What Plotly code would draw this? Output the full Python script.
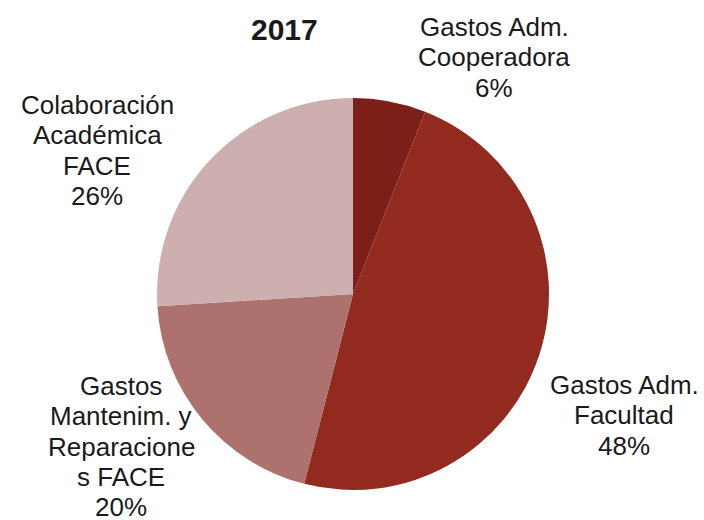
import plotly.graph_objects as go

labels = ["Gastos Adm.<br>Cooperadora", "Gastos Adm.<br>Facultad",
          "Gastos<br>Mantenim. y<br>Reparacione<br>s FACE", "Colaboración<br>Académica<br>FACE"]
values = [6, 48, 20, 26]
colors = ["#7B1F18", "#922A1F", "#AE726E", "#CDAFAF"]
# pixel centre x and first-line centre y of each label block
label_pos = [(494, 26), (624, 384), (121, 385), (97, 104)]
LINE = 30.3

W, H = 704, 520
FONT = "Liberation Sans, Arial, sans-serif"
fig = go.Figure(go.Pie(
    labels=labels, values=values, sort=False, direction="clockwise", rotation=0,
    marker=dict(colors=colors, line=dict(width=0)),
    textinfo="none", hoverinfo="label+percent", showlegend=False,
    domain=dict(x=[(353 - 196) / W, (353 + 196) / W], y=[1 - 490 / H, 1 - 98 / H]),
))

total = sum(values)
for lab, v, (px, py) in zip(labels, values, label_pos):
    lines = lab.split("<br>") + [f"{round(100 * v / total)}%"]
    for i, ln in enumerate(lines):
        fig.add_annotation(
            x=px / W, y=1 - (py + i * LINE + 1) / H, xref="paper", yref="paper",
            text=ln, showarrow=False,
            font=dict(family=FONT, size=26, color="#1a1a1a"),
            xanchor="center", yanchor="middle", align="center",
        )

fig.add_annotation(
    x=284 / W, y=1 - 29 / H, xref="paper", yref="paper", text="<b>2017</b>",
    showarrow=False, font=dict(family=FONT, size=30, color="#1a1a1a"),
    xanchor="center", yanchor="middle",
)

fig.update_layout(width=W, height=H, margin=dict(l=0, r=0, t=0, b=0),
                  paper_bgcolor="white", plot_bgcolor="white")
fig.write_html("out.html", config={"displayModeBar": False},
               post_script="document.body.style.margin='0';")
